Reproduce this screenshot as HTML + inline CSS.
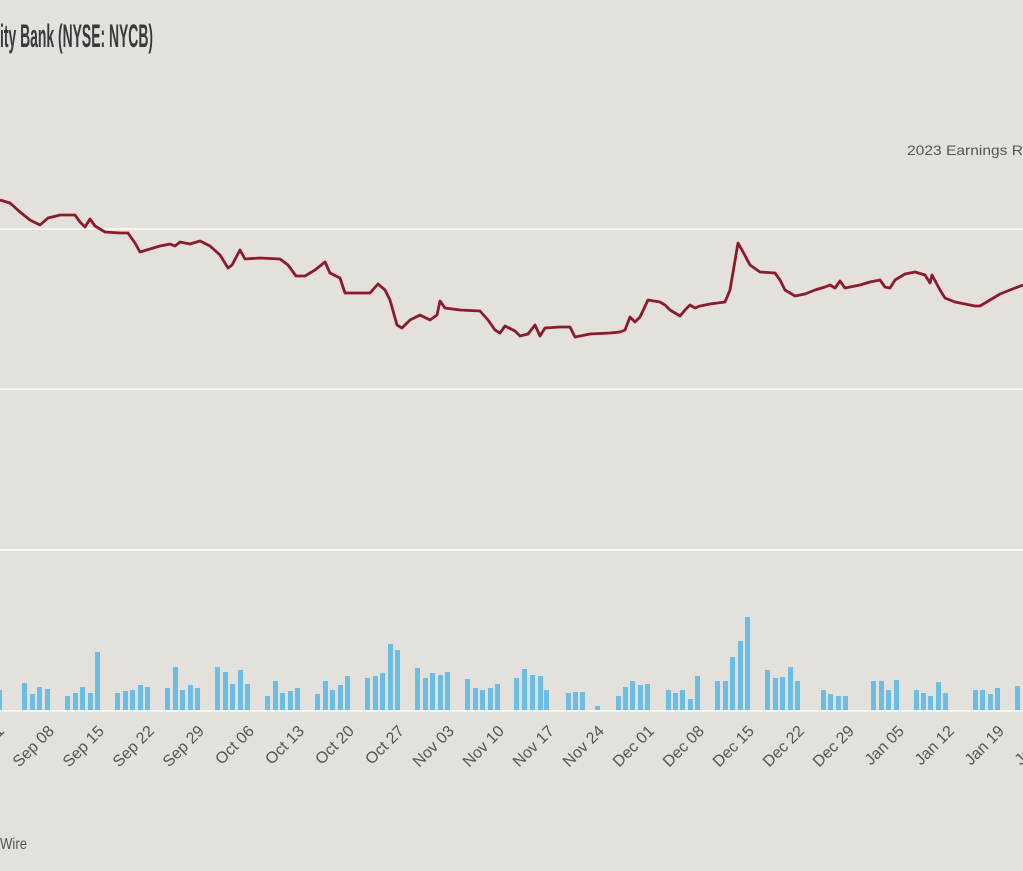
<!DOCTYPE html>
<html><head><meta charset="utf-8"><style>
html,body{margin:0;padding:0;background:#e4e1dc;}
svg{display:block;}
text{font-family:"Liberation Sans Narrow","Liberation Sans",sans-serif;}
</style></head><body>
<svg width="1023" height="871" viewBox="0 0 1023 871" xmlns="http://www.w3.org/2000/svg">
<rect width="1023" height="871" fill="#e4e1dc"/>
<text x="0" y="47" font-size="32" font-weight="bold" fill="#3a3a3a" textLength="153" lengthAdjust="spacingAndGlyphs">ity Bank (NYSE: NYCB)</text>
<text x="907" y="155" font-size="14" fill="#555" textLength="116" lengthAdjust="spacingAndGlyphs">2023 Earnings R</text>
<text x="0" y="849" font-size="16" fill="#555" textLength="27" lengthAdjust="spacingAndGlyphs">Wire</text>
<g stroke="#f7f6f3" stroke-width="2">
<line x1="0" y1="229" x2="1023" y2="229"/>
<line x1="0" y1="389" x2="1023" y2="389"/>
<line x1="0" y1="550" x2="1023" y2="550"/>
</g>
<g fill="#6bbde3">
<rect x="-2" y="690" width="4" height="21"/>
<rect x="22" y="683" width="5" height="28"/><rect x="30" y="694" width="5" height="17"/><rect x="37" y="687" width="5" height="24"/><rect x="45" y="689" width="5" height="22"/>
<rect x="65" y="696" width="5" height="15"/><rect x="73" y="693" width="5" height="18"/><rect x="80" y="687" width="5" height="24"/><rect x="88" y="693" width="5" height="18"/><rect x="95" y="652" width="5" height="59"/>
<rect x="115" y="693" width="5" height="18"/><rect x="123" y="691" width="5" height="20"/><rect x="130" y="690" width="5" height="21"/><rect x="138" y="685" width="5" height="26"/><rect x="145" y="687" width="5" height="24"/>
<rect x="165" y="688" width="5" height="23"/><rect x="173" y="667" width="5" height="44"/><rect x="180" y="690" width="5" height="21"/><rect x="188" y="685" width="5" height="26"/><rect x="195" y="688" width="5" height="23"/>
<rect x="215" y="667" width="5" height="44"/><rect x="223" y="672" width="5" height="39"/><rect x="230" y="684" width="5" height="27"/><rect x="238" y="670" width="5" height="41"/><rect x="245" y="684" width="5" height="27"/>
<rect x="265" y="696" width="5" height="15"/><rect x="273" y="681" width="5" height="30"/><rect x="280" y="693" width="5" height="18"/><rect x="288" y="691" width="5" height="20"/><rect x="295" y="688" width="5" height="23"/>
<rect x="315" y="694" width="5" height="17"/><rect x="323" y="681" width="5" height="30"/><rect x="330" y="690" width="5" height="21"/><rect x="338" y="685" width="5" height="26"/><rect x="345" y="676" width="5" height="35"/>
<rect x="365" y="678" width="5" height="33"/><rect x="373" y="676" width="5" height="35"/><rect x="380" y="673" width="5" height="38"/><rect x="388" y="644" width="5" height="67"/><rect x="395" y="650" width="5" height="61"/>
<rect x="415" y="668" width="5" height="43"/><rect x="423" y="678" width="5" height="33"/><rect x="430" y="673" width="5" height="38"/><rect x="438" y="675" width="5" height="36"/><rect x="445" y="672" width="5" height="39"/>
<rect x="465" y="679" width="5" height="32"/><rect x="473" y="688" width="5" height="23"/><rect x="480" y="690" width="5" height="21"/><rect x="488" y="688" width="5" height="23"/><rect x="495" y="684" width="5" height="27"/>
<rect x="514" y="678" width="5" height="33"/><rect x="522" y="669" width="5" height="42"/><rect x="530" y="675" width="5" height="36"/><rect x="538" y="676" width="5" height="35"/><rect x="544" y="690" width="5" height="21"/>
<rect x="566" y="693" width="5" height="18"/><rect x="573" y="692" width="5" height="19"/><rect x="580" y="692" width="5" height="19"/><rect x="595" y="706" width="5" height="5"/>
<rect x="616" y="696" width="5" height="15"/><rect x="623" y="687" width="5" height="24"/><rect x="630" y="681" width="5" height="30"/><rect x="638" y="685" width="5" height="26"/><rect x="645" y="684" width="5" height="27"/>
<rect x="666" y="690" width="5" height="21"/><rect x="673" y="693" width="5" height="18"/><rect x="680" y="690" width="5" height="21"/><rect x="688" y="699" width="5" height="12"/><rect x="695" y="676" width="5" height="35"/>
<rect x="715" y="681" width="5" height="30"/><rect x="723" y="681" width="5" height="30"/><rect x="730" y="657" width="5" height="54"/><rect x="738" y="641" width="5" height="70"/><rect x="745" y="617" width="5" height="94"/>
<rect x="765" y="670" width="5" height="41"/><rect x="773" y="678" width="5" height="33"/><rect x="780" y="677" width="5" height="34"/><rect x="788" y="667" width="5" height="44"/><rect x="795" y="681" width="5" height="30"/>
<rect x="821" y="690" width="5" height="21"/><rect x="828" y="694" width="5" height="17"/><rect x="836" y="696" width="5" height="15"/><rect x="843" y="696" width="5" height="15"/>
<rect x="871" y="681" width="5" height="30"/><rect x="879" y="681" width="5" height="30"/><rect x="886" y="690" width="5" height="21"/><rect x="894" y="680" width="5" height="31"/>
<rect x="914" y="690" width="5" height="21"/><rect x="921" y="693" width="5" height="18"/><rect x="928" y="696" width="5" height="15"/><rect x="936" y="682" width="5" height="29"/><rect x="943" y="693" width="5" height="18"/>
<rect x="973" y="690" width="5" height="21"/><rect x="980" y="690" width="5" height="21"/><rect x="988" y="694" width="5" height="17"/><rect x="995" y="688" width="5" height="23"/>
<rect x="1015" y="686" width="5" height="25"/>
</g>
<line x1="0" y1="711" x2="1023" y2="711" stroke="#f7f6f3" stroke-width="2"/>
<polyline fill="none" stroke="#8b1a2b" stroke-width="2.8" stroke-linejoin="round" points="0,200 10,203 20,212 30,220 40,225 48,218 60,215 75,215 80,222 85,227 90,219 95,226 105,232 120,233 128,233 135,243 140,252 150,249 160,246 170,244 175,246 180,242 190,244 200,241 210,246 220,255 228,268 232,265 240,250 245,259 260,258 280,259 288,265 296,276 305,276 315,270 325,262 330,273 340,278 345,293 370,293 378,284 385,290 390,300 397,325 402,328 410,320 420,315 430,320 437,315 440,301 445,308 460,310 480,311 488,320 495,330 500,333 505,326 515,331 520,336 528,334 535,325 540,336 545,328 560,327 570,327 575,337 590,334 610,333 620,332 625,330 630,317 635,322 640,317 648,300 660,302 665,305 670,310 680,316 685,310 690,305 695,308 700,306 710,304 725,302 730,290 738,243 742,250 750,265 760,272 775,273 780,280 785,290 795,296 805,294 815,290 825,287 830,285 835,288 840,281 845,288 860,285 870,282 880,280 885,287 890,288 895,280 905,274 915,272 925,275 930,283 932,275 940,290 945,298 955,302 965,304 975,306 980,306 990,300 1000,294 1010,290 1023,285"/>
<g font-size="16" fill="#555" text-anchor="end">
<text transform="translate(5,732) rotate(-45)">Sep 01</text>
<text transform="translate(55,732) rotate(-45)">Sep 08</text>
<text transform="translate(105,732) rotate(-45)">Sep 15</text>
<text transform="translate(155,732) rotate(-45)">Sep 22</text>
<text transform="translate(205,732) rotate(-45)">Sep 29</text>
<text transform="translate(255,732) rotate(-45)">Oct 06</text>
<text transform="translate(305,732) rotate(-45)">Oct 13</text>
<text transform="translate(355,732) rotate(-45)">Oct 20</text>
<text transform="translate(405,732) rotate(-45)">Oct 27</text>
<text transform="translate(455,732) rotate(-45)">Nov 03</text>
<text transform="translate(505,732) rotate(-45)">Nov 10</text>
<text transform="translate(555,732) rotate(-45)">Nov 17</text>
<text transform="translate(605,732) rotate(-45)">Nov 24</text>
<text transform="translate(655,732) rotate(-45)">Dec 01</text>
<text transform="translate(705,732) rotate(-45)">Dec 08</text>
<text transform="translate(755,732) rotate(-45)">Dec 15</text>
<text transform="translate(805,732) rotate(-45)">Dec 22</text>
<text transform="translate(855,732) rotate(-45)">Dec 29</text>
<text transform="translate(905,732) rotate(-45)">Jan 05</text>
<text transform="translate(955,732) rotate(-45)">Jan 12</text>
<text transform="translate(1005,732) rotate(-45)">Jan 19</text>
<text transform="translate(1055,732) rotate(-45)">Jan 26</text>
</g>
</svg>
</body></html>
